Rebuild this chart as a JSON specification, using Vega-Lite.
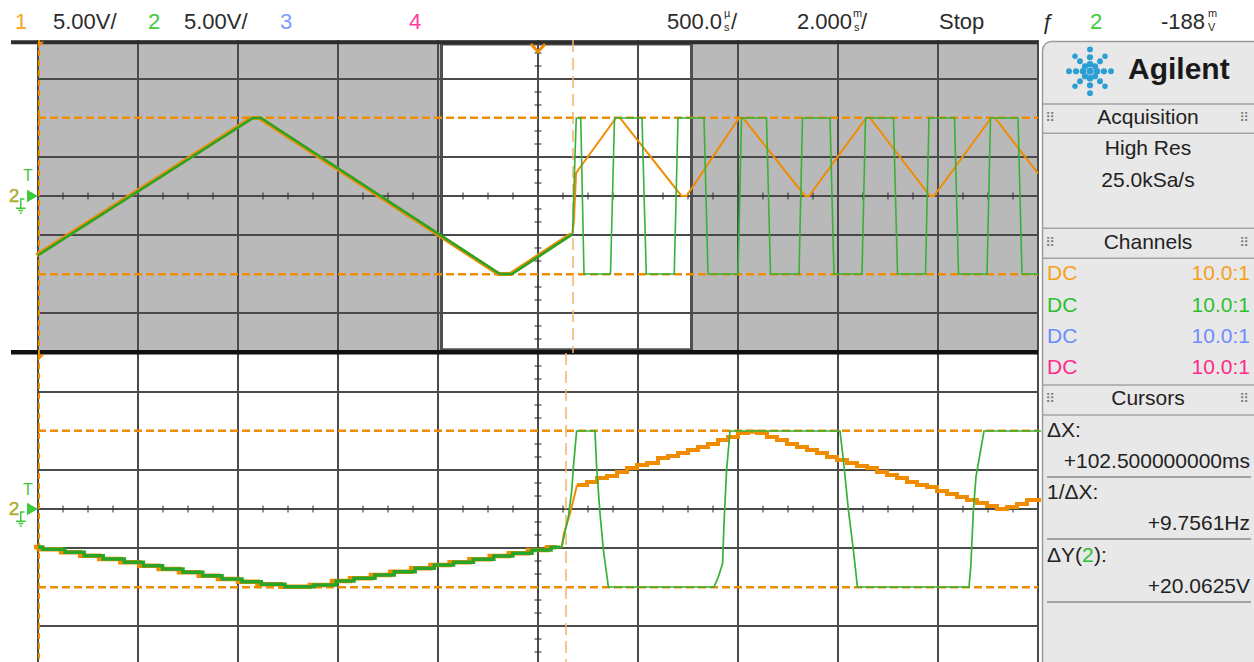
{
"$schema":"https://vega.github.io/schema/vega-lite/v6.json",
"padding":0,
"background":"white",
"spacing":0,
"bounds":"flush",
"config":{"view":{"stroke":null},"axis":{"disable":true},"legend":{"disable":true},"text":{"font":"Liberation Sans"}},
"resolve":{"scale":{"x":"independent","y":"independent","color":"independent","size":"independent"}},
"datasets":{
"header":[
{"text":"1","pos":15,"ch":"1","part":"main"},
{"text":"5.00V/","pos":53,"ch":"n","part":"main"},
{"text":"2","pos":148,"ch":"2","part":"main"},
{"text":"5.00V/","pos":184,"ch":"n","part":"main"},
{"text":"3","pos":280,"ch":"3","part":"main"},
{"text":"4","pos":409,"ch":"4","part":"main"},
{"text":"500.0","pos":667,"ch":"n","part":"main"},
{"text":"µ","pos":724,"ch":"n","part":"sup"},
{"text":"s","pos":724,"ch":"n","part":"sub"},
{"text":"/","pos":731,"ch":"n","part":"main"},
{"text":"2.000","pos":797,"ch":"n","part":"main"},
{"text":"m","pos":853,"ch":"n","part":"sup"},
{"text":"s","pos":854,"ch":"n","part":"sub"},
{"text":"/","pos":861,"ch":"n","part":"main"},
{"text":"Stop","pos":939,"ch":"n","part":"main"},
{"text":"ƒ","pos":1042,"ch":"n","part":"main"},
{"text":"2","pos":1090,"ch":"2","part":"main"},
{"text":"-188","pos":1161,"ch":"n","part":"main"},
{"text":"m","pos":1208,"ch":"n","part":"sup"},
{"text":"V","pos":1208,"ch":"n","part":"sub"}
],
"uGridT":[{"t":-10},{"t":-8},{"t":-6},{"t":-4},{"t":-2},{"t":0},{"t":2},{"t":4},{"t":6},{"t":8},{"t":10}],
"lGridT":[{"t":-1.93},{"t":-1.43},{"t":-0.93},{"t":-0.43},{"t":0.07},{"t":0.57},{"t":1.07},{"t":1.57},{"t":2.07},{"t":2.57},{"t":3.07}],
"gridV":[{"v":-15},{"v":-5},{"v":0},{"v":5},{"v":15}],
"uTicksT":[{"t":-9.5},{"t":-9},{"t":-8.5},{"t":-7.5},{"t":-7},{"t":-6.5},{"t":-5.5},{"t":-5},{"t":-4.5},{"t":-3.5},{"t":-3},{"t":-2.5},{"t":-1.5},{"t":-1},{"t":-0.5},{"t":0.5},{"t":1},{"t":1.5},{"t":2.5},{"t":3},{"t":3.5},{"t":4.5},{"t":5},{"t":5.5},{"t":6.5},{"t":7},{"t":7.5},{"t":8.5},{"t":9},{"t":9.5}],
"lTicksT":[{"t":-1.805},{"t":-1.68},{"t":-1.555},{"t":-1.305},{"t":-1.18},{"t":-1.055},{"t":-0.805},{"t":-0.68},{"t":-0.555},{"t":-0.305},{"t":-0.18},{"t":-0.055},{"t":0.195},{"t":0.32},{"t":0.445},{"t":0.695},{"t":0.82},{"t":0.945},{"t":1.195},{"t":1.32},{"t":1.445},{"t":1.695},{"t":1.82},{"t":1.945},{"t":2.195},{"t":2.32},{"t":2.445},{"t":2.695},{"t":2.82},{"t":2.945}],
"ticksV":[{"v":-18.333},{"v":-16.667},{"v":-13.333},{"v":-11.667},{"v":-8.333},{"v":-6.667},{"v":-3.333},{"v":-1.667},{"v":1.667},{"v":3.333},{"v":6.667},{"v":8.333},{"v":11.667},{"v":13.333},{"v":16.667},{"v":18.333}],
"cursorsY":[{"v":10.03},{"v":-10.03}],
"main":[
{"ch":1,"t":-10,"v":-7.6},{"ch":1,"t":-5.7,"v":10},{"ch":1,"t":-5.54,"v":10},{"ch":1,"t":-0.76,"v":-10},{"ch":1,"t":-0.52,"v":-10},{"ch":1,"t":0.69,"v":-4.9},{"ch":1,"t":0.72,"v":-3.1},{"ch":1,"t":0.76,"v":2.9},{"ch":1,"t":0.8,"v":3.3},{"ch":1,"t":1.56,"v":10},{"ch":1,"t":1.64,"v":10},{"ch":1,"t":2.87,"v":0},{"ch":1,"t":2.97,"v":0},{"ch":1,"t":4.02,"v":10},{"ch":1,"t":4.1,"v":10},{"ch":1,"t":5.34,"v":0},{"ch":1,"t":5.42,"v":0},{"ch":1,"t":6.56,"v":10},{"ch":1,"t":6.64,"v":10},{"ch":1,"t":7.84,"v":0},{"ch":1,"t":7.92,"v":0},{"ch":1,"t":9.06,"v":10},{"ch":1,"t":9.14,"v":10},{"ch":1,"t":10,"v":2.9},
{"ch":2,"t":-10,"v":-7.6},{"ch":2,"t":-5.7,"v":10},{"ch":2,"t":-5.54,"v":10},{"ch":2,"t":-0.76,"v":-10},{"ch":2,"t":-0.52,"v":-10},{"ch":2,"t":0.69,"v":-4.9},{"ch":2,"t":0.765,"v":10},{"ch":2,"t":0.855,"v":10},{"ch":2,"t":0.92,"v":-10},{"ch":2,"t":1.45,"v":-10},{"ch":2,"t":1.53,"v":10},{"ch":2,"t":2.08,"v":10},{"ch":2,"t":2.165,"v":-10},{"ch":2,"t":2.725,"v":-10},{"ch":2,"t":2.8,"v":10},{"ch":2,"t":3.32,"v":10},{"ch":2,"t":3.4,"v":-10},{"ch":2,"t":4.0,"v":-10},{"ch":2,"t":4.07,"v":10},{"ch":2,"t":4.57,"v":10},{"ch":2,"t":4.65,"v":-10},{"ch":2,"t":5.22,"v":-10},{"ch":2,"t":5.29,"v":10},{"ch":2,"t":5.84,"v":10},{"ch":2,"t":5.92,"v":-10},{"ch":2,"t":6.48,"v":-10},{"ch":2,"t":6.55,"v":10},{"ch":2,"t":7.11,"v":10},{"ch":2,"t":7.19,"v":-10},{"ch":2,"t":7.75,"v":-10},{"ch":2,"t":7.82,"v":10},{"ch":2,"t":8.33,"v":10},{"ch":2,"t":8.41,"v":-10},{"ch":2,"t":8.98,"v":-10},{"ch":2,"t":9.05,"v":10},{"ch":2,"t":9.6,"v":10},{"ch":2,"t":9.68,"v":-10},{"ch":2,"t":10,"v":-10}
],
"zoom":[
{"ch":1,"t":-1.93,"v":-4.87},{"ch":1,"t":-1.906,"v":-5.17},{"ch":1,"t":-1.795,"v":-5.55},{"ch":1,"t":-1.699,"v":-5.99},{"ch":1,"t":-1.604,"v":-6.41},{"ch":1,"t":-1.498,"v":-6.83},{"ch":1,"t":-1.403,"v":-7.27},{"ch":1,"t":-1.307,"v":-7.69},{"ch":1,"t":-1.205,"v":-8.12},{"ch":1,"t":-1.106,"v":-8.55},{"ch":1,"t":-1.01,"v":-8.97},{"ch":1,"t":-0.91,"v":-9.32},{"ch":1,"t":-0.813,"v":-9.65},{"ch":1,"t":-0.695,"v":-9.96},{"ch":1,"t":-0.551,"v":-9.74},{"ch":1,"t":-0.44,"v":-9.23},{"ch":1,"t":-0.35,"v":-8.88},{"ch":1,"t":-0.245,"v":-8.46},{"ch":1,"t":-0.149,"v":-8.04},{"ch":1,"t":-0.044,"v":-7.6},{"ch":1,"t":0.052,"v":-7.18},{"ch":1,"t":0.148,"v":-6.83},{"ch":1,"t":0.247,"v":-6.45},{"ch":1,"t":0.349,"v":-6.03},{"ch":1,"t":0.444,"v":-5.68},{"ch":1,"t":0.54,"v":-5.26},{"ch":1,"t":0.635,"v":-4.91},{"ch":1,"t":0.683,"v":-4.91},
{"ch":1,"t":0.689,"v":-4.83},{"ch":1,"t":0.7,"v":-3.12},{"ch":1,"t":0.713,"v":-2.05},{"ch":1,"t":0.73,"v":-0.55},{"ch":1,"t":0.747,"v":1.15},{"ch":1,"t":0.763,"v":2.86},
{"ch":1,"t":0.765,"v":3.08},{"ch":1,"t":0.815,"v":3.46},{"ch":1,"t":0.865,"v":3.97},{"ch":1,"t":0.915,"v":4.23},{"ch":1,"t":0.965,"v":4.74},{"ch":1,"t":1.015,"v":5.26},{"ch":1,"t":1.065,"v":5.64},{"ch":1,"t":1.115,"v":5.9},{"ch":1,"t":1.17,"v":6.54},{"ch":1,"t":1.22,"v":6.79},{"ch":1,"t":1.27,"v":7.18},{"ch":1,"t":1.32,"v":7.56},{"ch":1,"t":1.37,"v":7.95},{"ch":1,"t":1.42,"v":8.33},{"ch":1,"t":1.47,"v":8.85},{"ch":1,"t":1.52,"v":9.23},{"ch":1,"t":1.57,"v":9.74},{"ch":1,"t":1.62,"v":9.9},{"ch":1,"t":1.665,"v":9.74},{"ch":1,"t":1.715,"v":9.23},{"ch":1,"t":1.765,"v":8.85},{"ch":1,"t":1.815,"v":8.33},{"ch":1,"t":1.865,"v":7.95},{"ch":1,"t":1.915,"v":7.56},{"ch":1,"t":1.965,"v":7.18},{"ch":1,"t":2.015,"v":6.67},{"ch":1,"t":2.065,"v":6.28},{"ch":1,"t":2.115,"v":5.9},{"ch":1,"t":2.165,"v":5.51},{"ch":1,"t":2.215,"v":5.26},{"ch":1,"t":2.265,"v":4.74},{"ch":1,"t":2.315,"v":4.36},{"ch":1,"t":2.365,"v":3.97},{"ch":1,"t":2.415,"v":3.46},{"ch":1,"t":2.465,"v":3.08},{"ch":1,"t":2.515,"v":2.82},{"ch":1,"t":2.565,"v":2.31},{"ch":1,"t":2.615,"v":1.92},{"ch":1,"t":2.665,"v":1.54},{"ch":1,"t":2.715,"v":1.15},{"ch":1,"t":2.765,"v":0.77},{"ch":1,"t":2.815,"v":0.38},{"ch":1,"t":2.865,"v":0},{"ch":1,"t":2.915,"v":0.26},{"ch":1,"t":2.965,"v":0.64},{"ch":1,"t":3.015,"v":1.15},{"ch":1,"t":3.085,"v":1.15},
{"ch":2,"t":-1.93,"v":-4.87},{"ch":2,"t":-1.906,"v":-5.17},{"ch":2,"t":-1.795,"v":-5.55},{"ch":2,"t":-1.699,"v":-5.99},{"ch":2,"t":-1.604,"v":-6.41},{"ch":2,"t":-1.498,"v":-6.83},{"ch":2,"t":-1.403,"v":-7.27},{"ch":2,"t":-1.307,"v":-7.69},{"ch":2,"t":-1.205,"v":-8.12},{"ch":2,"t":-1.106,"v":-8.55},{"ch":2,"t":-1.01,"v":-8.97},{"ch":2,"t":-0.91,"v":-9.32},{"ch":2,"t":-0.813,"v":-9.65},{"ch":2,"t":-0.695,"v":-9.96},{"ch":2,"t":-0.551,"v":-9.74},{"ch":2,"t":-0.44,"v":-9.23},{"ch":2,"t":-0.35,"v":-8.88},{"ch":2,"t":-0.245,"v":-8.46},{"ch":2,"t":-0.149,"v":-8.04},{"ch":2,"t":-0.044,"v":-7.6},{"ch":2,"t":0.052,"v":-7.18},{"ch":2,"t":0.148,"v":-6.83},{"ch":2,"t":0.247,"v":-6.45},{"ch":2,"t":0.349,"v":-6.03},{"ch":2,"t":0.444,"v":-5.68},{"ch":2,"t":0.54,"v":-5.26},{"ch":2,"t":0.635,"v":-4.91},{"ch":2,"t":0.683,"v":-4.91},
{"ch":2,"t":0.689,"v":-4.83},{"ch":2,"t":0.705,"v":-2.9},{"ch":2,"t":0.722,"v":-1.0},{"ch":2,"t":0.739,"v":2.44},{"ch":2,"t":0.747,"v":5.4},{"ch":2,"t":0.763,"v":10},{"ch":2,"t":0.855,"v":10},{"ch":2,"t":0.863,"v":5.4},{"ch":2,"t":0.88,"v":-0.55},{"ch":2,"t":0.897,"v":-5.26},{"ch":2,"t":0.922,"v":-10},{"ch":2,"t":1.45,"v":-10},{"ch":2,"t":1.472,"v":-8.68},{"ch":2,"t":1.493,"v":-6.96},{"ch":2,"t":1.5,"v":-1.83},{"ch":2,"t":1.513,"v":5.0},{"ch":2,"t":1.53,"v":10},{"ch":2,"t":2.08,"v":10},{"ch":2,"t":2.097,"v":6.28},{"ch":2,"t":2.122,"v":-0.13},{"ch":2,"t":2.147,"v":-5.26},{"ch":2,"t":2.167,"v":-10},{"ch":2,"t":2.725,"v":-10},{"ch":2,"t":2.734,"v":-7.4},{"ch":2,"t":2.747,"v":-0.13},{"ch":2,"t":2.76,"v":4.14},{"ch":2,"t":2.8,"v":10},{"ch":2,"t":3.085,"v":10}
],
"panelText":[
{"text":"Agilent","row":0.95,"kind":"brand","ch":"n"},
{"text":"Acquisition","row":2.5,"kind":"section","ch":"n"},
{"text":"High Res","row":3.5,"kind":"info","ch":"n"},
{"text":"25.0kSa/s","row":4.5,"kind":"info","ch":"n"},
{"text":"Channels","row":6.5,"kind":"section","ch":"n"},
{"text":"DC","row":7.5,"kind":"label","ch":"1"},
{"text":"DC","row":8.5,"kind":"label","ch":"2"},
{"text":"DC","row":9.5,"kind":"label","ch":"3"},
{"text":"DC","row":10.5,"kind":"label","ch":"4"},
{"text":"10.0:1","row":7.5,"kind":"value","ch":"1"},
{"text":"10.0:1","row":8.5,"kind":"value","ch":"2"},
{"text":"10.0:1","row":9.5,"kind":"value","ch":"3"},
{"text":"10.0:1","row":10.5,"kind":"value","ch":"4"},
{"text":"Cursors","row":11.5,"kind":"section","ch":"n"},
{"text":"ΔX:","row":12.5,"kind":"label","ch":"n"},
{"text":"+102.500000000ms","row":13.5,"kind":"value","ch":"n"},
{"text":"1/ΔX:","row":14.5,"kind":"label","ch":"n"},
{"text":"+9.7561Hz","row":15.5,"kind":"value","ch":"n"},
{"text":"ΔY(","row":16.5,"kind":"label","ch":"n"},
{"text":"2","row":16.5,"kind":"lab2","ch":"2"},
{"text":"):","row":16.5,"kind":"lab3","ch":"n"},
{"text":"+20.0625V","row":17.5,"kind":"value","ch":"n"}
],
"panelLines":[
{"row":2.05,"kind":"band"},{"row":2.98,"kind":"band"},{"row":6.02,"kind":"band"},{"row":6.98,"kind":"band"},{"row":11.04,"kind":"band"},{"row":12.0,"kind":"band"},
{"row":13.98,"kind":"under"},{"row":15.97,"kind":"under"},{"row":17.98,"kind":"under"}
],
"logo":[
{"col":49,"row":1.0,"ring":0},
{"col":42,"row":1.0,"ring":1},{"col":56,"row":1.0,"ring":1},{"col":49,"row":0.776,"ring":1},{"col":49,"row":1.224,"ring":1},
{"col":44,"row":0.84,"ring":2},{"col":54,"row":0.84,"ring":2},{"col":44,"row":1.16,"ring":2},{"col":54,"row":1.16,"ring":2},
{"col":35,"row":1.0,"ring":2},{"col":63,"row":1.0,"ring":2},{"col":49,"row":0.552,"ring":2},{"col":49,"row":1.448,"ring":2},
{"col":39,"row":0.68,"ring":3},{"col":59,"row":0.68,"ring":3},{"col":39,"row":1.32,"ring":3},{"col":59,"row":1.32,"ring":3},
{"col":28,"row":1.0,"ring":3},{"col":70,"row":1.0,"ring":3},{"col":49,"row":0.3,"ring":3},{"col":49,"row":1.7,"ring":3},
{"col":34,"row":0.52,"ring":4},{"col":64,"row":0.52,"ring":4},{"col":34,"row":1.48,"ring":4},{"col":64,"row":1.48,"ring":4}
]
},
"vconcat":[
{
"width":1254,"height":40,
"data":{"name":"header"},
"layer":[
{"transform":[{"filter":"datum.part == 'main'"}],
"mark":{"type":"text","align":"left","baseline":"middle","fontSize":22,"font":"Liberation Sans","clip":true},
"encoding":{"x":{"field":"pos","type":"quantitative","scale":{"domain":[0,1254],"nice":false,"zero":false}},"y":{"datum":0.45,"type":"quantitative","scale":{"domain":[0,1],"nice":false}},"text":{"field":"text","type":"nominal"},"color":{"field":"ch","type":"nominal","scale":{"domain":["1","2","3","4","n"],"range":["#f5a623","#3ec93e","#7b9bff","#ff3d9e","#2b2b2b"]}}}},
{"transform":[{"filter":"datum.part == 'sup'"}],
"mark":{"type":"text","align":"left","baseline":"middle","fontSize":11,"font":"Liberation Sans","clip":true},
"encoding":{"x":{"field":"pos","type":"quantitative","scale":{"domain":[0,1254],"nice":false,"zero":false}},"y":{"datum":0.64,"type":"quantitative","scale":{"domain":[0,1],"nice":false}},"text":{"field":"text","type":"nominal"},"color":{"field":"ch","type":"nominal","scale":{"domain":["1","2","3","4","n"],"range":["#f5a623","#3ec93e","#7b9bff","#ff3d9e","#2b2b2b"]}}}},
{"transform":[{"filter":"datum.part == 'sub'"}],
"mark":{"type":"text","align":"left","baseline":"middle","fontSize":11,"font":"Liberation Sans","clip":true},
"encoding":{"x":{"field":"pos","type":"quantitative","scale":{"domain":[0,1254],"nice":false,"zero":false}},"y":{"datum":0.3,"type":"quantitative","scale":{"domain":[0,1],"nice":false}},"text":{"field":"text","type":"nominal"},"color":{"field":"ch","type":"nominal","scale":{"domain":["1","2","3","4","n"],"range":["#f5a623","#3ec93e","#7b9bff","#ff3d9e","#2b2b2b"]}}}}
]
},
{
"hconcat":[
{
"spacing":0,
"bounds":"flush",
"resolve":{"scale":{"x":"independent","y":"independent"}},
"vconcat":[
{
"width":1041,"height":313,
"layer":[
{"data":{"values":[{}]},"mark":{"type":"rect","color":"#b9b9b9"},
"encoding":{"x":{"datum":-10,"type":"quantitative","scale":{"domain":[-10.76,10.06],"nice":false,"zero":false}},"x2":{"datum":10},"y":{"datum":-20,"type":"quantitative","scale":{"domain":[-20.13,20],"nice":false,"zero":false}},"y2":{"datum":20}}},
{"data":{"values":[{}]},"mark":{"type":"rect","fill":"white","stroke":"#505050","strokeWidth":3},
"encoding":{"x":{"datum":-1.93,"type":"quantitative","scale":{"domain":[-10.76,10.06],"nice":false,"zero":false}},"x2":{"datum":3.07},"y":{"datum":-19.7,"type":"quantitative","scale":{"domain":[-20.13,20],"nice":false,"zero":false}},"y2":{"datum":19.5}}},
{"data":{"name":"uGridT"},"mark":{"type":"rule","color":"#4a4a4a","strokeWidth":2},
"encoding":{"x":{"field":"t","type":"quantitative","scale":{"domain":[-10.76,10.06],"nice":false,"zero":false}}}},
{"data":{"name":"gridV"},"mark":{"type":"rule","color":"#4a4a4a","strokeWidth":2},
"encoding":{"y":{"field":"v","type":"quantitative","scale":{"domain":[-20.13,20],"nice":false,"zero":false}},"x":{"datum":-10,"type":"quantitative","scale":{"domain":[-10.76,10.06],"nice":false,"zero":false}},"x2":{"datum":10}}},
{"data":{"values":[{}]},"mark":{"type":"rule","color":"#2e2e2e","strokeWidth":4,"clip":true},
"encoding":{"y":{"datum":19.7,"type":"quantitative","scale":{"domain":[-20.13,20],"nice":false,"zero":false}},"x":{"datum":-10.54,"type":"quantitative","scale":{"domain":[-10.76,10.06],"nice":false,"zero":false}},"x2":{"datum":10}}},
{"data":{"values":[{}]},"mark":{"type":"rule","color":"#111111","strokeWidth":4,"clip":true},
"encoding":{"y":{"datum":-20,"type":"quantitative","scale":{"domain":[-20.13,20],"nice":false,"zero":false}},"x":{"datum":-10.54,"type":"quantitative","scale":{"domain":[-10.76,10.06],"nice":false,"zero":false}},"x2":{"datum":10}}},
{"data":{"name":"uTicksT"},"mark":{"type":"tick","orient":"vertical","color":"#333333","size":7,"thickness":1.5},
"encoding":{"x":{"field":"t","type":"quantitative","scale":{"domain":[-10.76,10.06],"nice":false,"zero":false}},"y":{"datum":0,"type":"quantitative","scale":{"domain":[-20.13,20],"nice":false,"zero":false}}}},
{"data":{"name":"ticksV"},"mark":{"type":"tick","orient":"horizontal","color":"#333333","size":7,"thickness":1.5},
"encoding":{"y":{"field":"v","type":"quantitative","scale":{"domain":[-20.13,20],"nice":false,"zero":false}},"x":{"datum":0,"type":"quantitative","scale":{"domain":[-10.76,10.06],"nice":false,"zero":false}}}},
{"data":{"name":"cursorsY"},"mark":{"type":"rule","color":"#f08c00","strokeWidth":2.5,"strokeDash":[8,4]},
"encoding":{"y":{"field":"v","type":"quantitative","scale":{"domain":[-20.13,20],"nice":false,"zero":false}},"x":{"datum":-10,"type":"quantitative","scale":{"domain":[-10.76,10.06],"nice":false,"zero":false}},"x2":{"datum":10}}},
{"data":{"values":[{}]},"mark":{"type":"rule","color":"#f08c00","strokeWidth":2,"strokeDash":[6,4]},
"encoding":{"x":{"datum":-9.98,"type":"quantitative","scale":{"domain":[-10.76,10.06],"nice":false,"zero":false}}}},
{"data":{"values":[{}]},"mark":{"type":"rule","color":"#f6b36c","strokeWidth":1.5,"strokeDash":[12,6]},
"encoding":{"x":{"datum":0.7,"type":"quantitative","scale":{"domain":[-10.76,10.06],"nice":false,"zero":false}}}},
{"data":{"name":"main"},"transform":[{"filter":"datum.ch == 1 && datum.t <= 0.69"}],"mark":{"type":"line","color":"#f08c00","strokeWidth":4,"xOffset":-1.5,"clip":true},
"encoding":{"x":{"field":"t","type":"quantitative","scale":{"domain":[-10.76,10.06],"nice":false,"zero":false}},"y":{"field":"v","type":"quantitative","scale":{"domain":[-20.13,20],"nice":false,"zero":false}}}},
{"data":{"name":"main"},"transform":[{"filter":"datum.ch == 2 && datum.t <= 0.69"}],"mark":{"type":"line","color":"#28a428","strokeWidth":2.6,"clip":true},
"encoding":{"x":{"field":"t","type":"quantitative","scale":{"domain":[-10.76,10.06],"nice":false,"zero":false}},"y":{"field":"v","type":"quantitative","scale":{"domain":[-20.13,20],"nice":false,"zero":false}}}},
{"data":{"name":"main"},"transform":[{"filter":"datum.ch == 1 && datum.t >= 0.69"}],"mark":{"type":"line","color":"#f08c00","strokeWidth":2,"clip":true},
"encoding":{"x":{"field":"t","type":"quantitative","scale":{"domain":[-10.76,10.06],"nice":false,"zero":false}},"y":{"field":"v","type":"quantitative","scale":{"domain":[-20.13,20],"nice":false,"zero":false}}}},
{"data":{"name":"main"},"transform":[{"filter":"datum.ch == 2 && datum.t >= 0.69"}],"mark":{"type":"line","color":"#36b236","strokeWidth":1.6,"clip":true},
"encoding":{"x":{"field":"t","type":"quantitative","scale":{"domain":[-10.76,10.06],"nice":false,"zero":false}},"y":{"field":"v","type":"quantitative","scale":{"domain":[-20.13,20],"nice":false,"zero":false}}}},
{"data":{"values":[{}]},"mark":{"type":"point","shape":"M-1,-1L1,-1L-1,1Z","filled":true,"color":"#f08c00","size":40,"opacity":1,"clip":true},
"encoding":{"x":{"datum":-9.94,"type":"quantitative","scale":{"domain":[-10.76,10.06],"nice":false,"zero":false}},"y":{"datum":19.36,"type":"quantitative","scale":{"domain":[-20.13,20],"nice":false,"zero":false}}}},
{"data":{"values":[{}]},"mark":{"type":"point","shape":"M-1,-0.55L0,0.55L1,-0.55","filled":false,"stroke":"#f08c00","strokeWidth":3,"size":200,"opacity":1,"clip":true},
"encoding":{"x":{"datum":0,"type":"quantitative","scale":{"domain":[-10.76,10.06],"nice":false,"zero":false}},"y":{"datum":19.0,"type":"quantitative","scale":{"domain":[-20.13,20],"nice":false,"zero":false}}}},
{"data":{"values":[{}]},"mark":{"type":"text","text":"T","color":"#3ec93e","fontSize":16,"baseline":"middle","align":"center"},
"encoding":{"x":{"datum":-10.2,"type":"quantitative","scale":{"domain":[-10.76,10.06],"nice":false,"zero":false}},"y":{"datum":2.5,"type":"quantitative","scale":{"domain":[-20.13,20],"nice":false,"zero":false}}}},
{"data":{"values":[{}]},"mark":{"type":"text","text":"2","color":"#5cc53a","fontSize":19,"baseline":"middle","align":"center","stroke":"#f0a030","strokeWidth":0.5},
"encoding":{"x":{"datum":-10.48,"type":"quantitative","scale":{"domain":[-10.76,10.06],"nice":false,"zero":false}},"y":{"datum":0,"type":"quantitative","scale":{"domain":[-20.13,20],"nice":false,"zero":false}}}},
{"data":{"values":[{}]},"mark":{"type":"point","shape":"triangle-right","filled":true,"color":"#3ec93e","size":160,"opacity":1},
"encoding":{"x":{"datum":-10.11,"type":"quantitative","scale":{"domain":[-10.76,10.06],"nice":false,"zero":false}},"y":{"datum":0,"type":"quantitative","scale":{"domain":[-20.13,20],"nice":false,"zero":false}}}},
{"data":{"values":[{}]},"mark":{"type":"point","shape":"M0.4,-1.3L-0.2,-1.3L-0.2,0.2M-1,0.2L0.6,0.2M-0.6,0.6L0.2,0.6M-0.35,1L-0.05,1","filled":false,"stroke":"#3ec93e","strokeWidth":1.5,"size":150,"opacity":1},
"encoding":{"x":{"datum":-10.32,"type":"quantitative","scale":{"domain":[-10.76,10.06],"nice":false,"zero":false}},"y":{"datum":-1.4,"type":"quantitative","scale":{"domain":[-20.13,20],"nice":false,"zero":false}}}}
]
},
{
"width":1041,"height":309,
"layer":[
{"data":{"name":"lGridT"},"mark":{"type":"rule","color":"#4a4a4a","strokeWidth":2},
"encoding":{"x":{"field":"t","type":"quantitative","scale":{"domain":[-2.12,3.085],"nice":false,"zero":false}}}},
{"data":{"name":"gridV"},"mark":{"type":"rule","color":"#4a4a4a","strokeWidth":2},
"encoding":{"y":{"field":"v","type":"quantitative","scale":{"domain":[-19.615,20],"nice":false,"zero":false}},"x":{"datum":-1.93,"type":"quantitative","scale":{"domain":[-2.12,3.085],"nice":false,"zero":false}},"x2":{"datum":3.07}}},
{"data":{"values":[{}]},"mark":{"type":"rule","color":"#111111","strokeWidth":3,"clip":true},
"encoding":{"y":{"datum":20,"type":"quantitative","scale":{"domain":[-19.615,20],"nice":false,"zero":false}},"x":{"datum":-2.065,"type":"quantitative","scale":{"domain":[-2.12,3.085],"nice":false,"zero":false}},"x2":{"datum":3.07}}},
{"data":{"name":"lTicksT"},"mark":{"type":"tick","orient":"vertical","color":"#333333","size":7,"thickness":1.5},
"encoding":{"x":{"field":"t","type":"quantitative","scale":{"domain":[-2.12,3.085],"nice":false,"zero":false}},"y":{"datum":0,"type":"quantitative","scale":{"domain":[-19.615,20],"nice":false,"zero":false}}}},
{"data":{"name":"ticksV"},"mark":{"type":"tick","orient":"horizontal","color":"#333333","size":7,"thickness":1.5,"clip":true},
"encoding":{"y":{"field":"v","type":"quantitative","scale":{"domain":[-19.615,20],"nice":false,"zero":false}},"x":{"datum":0.57,"type":"quantitative","scale":{"domain":[-2.12,3.085],"nice":false,"zero":false}}}},
{"data":{"name":"cursorsY"},"mark":{"type":"rule","color":"#f08c00","strokeWidth":2.5,"strokeDash":[8,4]},
"encoding":{"y":{"field":"v","type":"quantitative","scale":{"domain":[-19.615,20],"nice":false,"zero":false}},"x":{"datum":-1.93,"type":"quantitative","scale":{"domain":[-2.12,3.085],"nice":false,"zero":false}},"x2":{"datum":3.07}}},
{"data":{"values":[{}]},"mark":{"type":"rule","color":"#f08c00","strokeWidth":2,"strokeDash":[6,4]},
"encoding":{"x":{"datum":-1.925,"type":"quantitative","scale":{"domain":[-2.12,3.085],"nice":false,"zero":false}}}},
{"data":{"values":[{}]},"mark":{"type":"rule","color":"#f6b36c","strokeWidth":1.5,"strokeDash":[12,6]},
"encoding":{"x":{"datum":0.71,"type":"quantitative","scale":{"domain":[-2.12,3.085],"nice":false,"zero":false}}}},
{"data":{"name":"zoom"},"transform":[{"filter":"datum.ch == 1 && datum.t <= 0.683"}],"mark":{"type":"line","interpolate":"step-after","color":"#f08c00","strokeWidth":4.5,"xOffset":-4,"clip":true},
"encoding":{"x":{"field":"t","type":"quantitative","scale":{"domain":[-2.12,3.085],"nice":false,"zero":false}},"y":{"field":"v","type":"quantitative","scale":{"domain":[-19.615,20],"nice":false,"zero":false}}}},
{"data":{"name":"zoom"},"transform":[{"filter":"datum.ch == 2 && datum.t <= 0.683"}],"mark":{"type":"line","interpolate":"step-after","color":"#28a428","strokeWidth":3.5,"clip":true},
"encoding":{"x":{"field":"t","type":"quantitative","scale":{"domain":[-2.12,3.085],"nice":false,"zero":false}},"y":{"field":"v","type":"quantitative","scale":{"domain":[-19.615,20],"nice":false,"zero":false}}}},
{"data":{"name":"zoom"},"transform":[{"filter":"datum.ch == 1 && datum.t >= 0.683 && datum.t <= 0.765"}],"mark":{"type":"line","color":"#f08c00","strokeWidth":2,"clip":true},
"encoding":{"x":{"field":"t","type":"quantitative","scale":{"domain":[-2.12,3.085],"nice":false,"zero":false}},"y":{"field":"v","type":"quantitative","scale":{"domain":[-19.615,20],"nice":false,"zero":false}}}},
{"data":{"name":"zoom"},"transform":[{"filter":"datum.ch == 1 && datum.t >= 0.765"}],"mark":{"type":"line","interpolate":"step-after","color":"#f08c00","strokeWidth":4,"clip":true},
"encoding":{"x":{"field":"t","type":"quantitative","scale":{"domain":[-2.12,3.085],"nice":false,"zero":false}},"y":{"field":"v","type":"quantitative","scale":{"domain":[-19.615,20],"nice":false,"zero":false}}}},
{"data":{"name":"zoom"},"transform":[{"filter":"datum.ch == 2 && datum.t >= 0.683"}],"mark":{"type":"line","color":"#36b236","strokeWidth":1.7,"clip":true},
"encoding":{"x":{"field":"t","type":"quantitative","scale":{"domain":[-2.12,3.085],"nice":false,"zero":false}},"y":{"field":"v","type":"quantitative","scale":{"domain":[-19.615,20],"nice":false,"zero":false}}}},
{"data":{"values":[{}]},"mark":{"type":"point","shape":"M-1,-1L1,-1L-1,1Z","filled":true,"color":"#f08c00","size":40,"opacity":1,"clip":true},
"encoding":{"x":{"datum":-1.915,"type":"quantitative","scale":{"domain":[-2.12,3.085],"nice":false,"zero":false}},"y":{"datum":19.36,"type":"quantitative","scale":{"domain":[-19.615,20],"nice":false,"zero":false}}}},
{"data":{"values":[{}]},"mark":{"type":"text","text":"T","color":"#3ec93e","fontSize":16,"baseline":"middle","align":"center"},
"encoding":{"x":{"datum":-1.98,"type":"quantitative","scale":{"domain":[-2.12,3.085],"nice":false,"zero":false}},"y":{"datum":2.5,"type":"quantitative","scale":{"domain":[-19.615,20],"nice":false,"zero":false}}}},
{"data":{"values":[{}]},"mark":{"type":"text","text":"2","color":"#5cc53a","fontSize":19,"baseline":"middle","align":"center","stroke":"#f0a030","strokeWidth":0.5},
"encoding":{"x":{"datum":-2.05,"type":"quantitative","scale":{"domain":[-2.12,3.085],"nice":false,"zero":false}},"y":{"datum":0,"type":"quantitative","scale":{"domain":[-19.615,20],"nice":false,"zero":false}}}},
{"data":{"values":[{}]},"mark":{"type":"point","shape":"triangle-right","filled":true,"color":"#3ec93e","size":160,"opacity":1},
"encoding":{"x":{"datum":-1.9575,"type":"quantitative","scale":{"domain":[-2.12,3.085],"nice":false,"zero":false}},"y":{"datum":0,"type":"quantitative","scale":{"domain":[-19.615,20],"nice":false,"zero":false}}}},
{"data":{"values":[{}]},"mark":{"type":"point","shape":"M0.4,-1.3L-0.2,-1.3L-0.2,0.2M-1,0.2L0.6,0.2M-0.6,0.6L0.2,0.6M-0.35,1L-0.05,1","filled":false,"stroke":"#3ec93e","strokeWidth":1.5,"size":150,"opacity":1},
"encoding":{"x":{"datum":-2.01,"type":"quantitative","scale":{"domain":[-2.12,3.085],"nice":false,"zero":false}},"y":{"datum":-1.4,"type":"quantitative","scale":{"domain":[-19.615,20],"nice":false,"zero":false}}}}
]
}
]
},
{
"width":213,"height":622,
"layer":[
{"data":{"values":[{}]},"mark":{"type":"rect","fill":"#e8e8e8","stroke":"#9a9a9a","strokeWidth":1.5,"cornerRadius":9,"clip":true},
"encoding":{"x":{"datum":1.5,"type":"quantitative","scale":{"domain":[0,213],"nice":false,"zero":false}},"x2":{"datum":260},"y":{"datum":0.05,"type":"quantitative","scale":{"domain":[0,19.904],"reverse":true,"nice":false,"zero":false}},"y2":{"datum":22}}},
{"data":{"name":"panelLines"},"transform":[{"filter":"datum.kind == 'band'"}],"mark":{"type":"rule","color":"#a3a3a3","strokeWidth":1.5},
"encoding":{"y":{"field":"row","type":"quantitative","scale":{"domain":[0,19.904],"reverse":true,"nice":false,"zero":false}},"x":{"datum":1.5,"type":"quantitative","scale":{"domain":[0,213],"nice":false,"zero":false}},"x2":{"datum":213}}},
{"data":{"name":"panelLines"},"transform":[{"filter":"datum.kind == 'under'"}],"mark":{"type":"rule","color":"#8c8c8c","strokeWidth":1.5},
"encoding":{"y":{"field":"row","type":"quantitative","scale":{"domain":[0,19.904],"reverse":true,"nice":false,"zero":false}},"x":{"datum":6,"type":"quantitative","scale":{"domain":[0,213],"nice":false,"zero":false}},"x2":{"datum":210}}},
{"data":{"name":"logo"},"mark":{"type":"circle","color":"#2b9fd4","opacity":1},
"encoding":{"x":{"field":"col","type":"quantitative","scale":{"domain":[0,213],"nice":false,"zero":false}},"y":{"field":"row","type":"quantitative","scale":{"domain":[0,19.904],"reverse":true,"nice":false,"zero":false}},"size":{"field":"ring","type":"ordinal","scale":{"domain":[0,1,2,3,4],"range":[48,30,18,10,6]}}}},
{"data":{"name":"panelText"},"transform":[{"filter":"datum.kind == 'brand'"}],"mark":{"type":"text","align":"left","baseline":"middle","fontSize":30,"fontWeight":"bold","font":"Liberation Sans","color":"#1a1a1a"},
"encoding":{"x":{"datum":87,"type":"quantitative","scale":{"domain":[0,213],"nice":false,"zero":false}},"y":{"field":"row","type":"quantitative","scale":{"domain":[0,19.904],"reverse":true,"nice":false,"zero":false}},"text":{"field":"text","type":"nominal"}}},
{"data":{"name":"panelText"},"transform":[{"filter":"datum.kind == 'section' || datum.kind == 'info'"}],"mark":{"type":"text","align":"center","baseline":"middle","fontSize":21,"font":"Liberation Sans","color":"#222222"},
"encoding":{"x":{"datum":107,"type":"quantitative","scale":{"domain":[0,213],"nice":false,"zero":false}},"y":{"field":"row","type":"quantitative","scale":{"domain":[0,19.904],"reverse":true,"nice":false,"zero":false}},"text":{"field":"text","type":"nominal"}}},
{"data":{"name":"panelText"},"transform":[{"filter":"datum.kind == 'section'"}],"mark":{"type":"text","text":"⠿","align":"center","baseline":"middle","fontSize":13,"font":"DejaVu Sans","color":"#7a7a7a"},
"encoding":{"x":{"datum":9,"type":"quantitative","scale":{"domain":[0,213],"nice":false,"zero":false}},"y":{"field":"row","type":"quantitative","scale":{"domain":[0,19.904],"reverse":true,"nice":false,"zero":false}}}},
{"data":{"name":"panelText"},"transform":[{"filter":"datum.kind == 'section'"}],"mark":{"type":"text","text":"⠿","align":"center","baseline":"middle","fontSize":13,"font":"DejaVu Sans","color":"#7a7a7a"},
"encoding":{"x":{"datum":203,"type":"quantitative","scale":{"domain":[0,213],"nice":false,"zero":false}},"y":{"field":"row","type":"quantitative","scale":{"domain":[0,19.904],"reverse":true,"nice":false,"zero":false}}}},
{"data":{"name":"panelText"},"transform":[{"filter":"datum.kind == 'label'"}],"mark":{"type":"text","align":"left","baseline":"middle","fontSize":21,"font":"Liberation Sans"},
"encoding":{"x":{"datum":6,"type":"quantitative","scale":{"domain":[0,213],"nice":false,"zero":false}},"y":{"field":"row","type":"quantitative","scale":{"domain":[0,19.904],"reverse":true,"nice":false,"zero":false}},"text":{"field":"text","type":"nominal"},"color":{"field":"ch","type":"nominal","scale":{"domain":["1","2","3","4","n"],"range":["#f7a01c","#2ec02e","#6d8cff","#ff2a8a","#222222"]}}}},
{"data":{"name":"panelText"},"transform":[{"filter":"datum.kind == 'lab2'"}],"mark":{"type":"text","align":"left","baseline":"middle","fontSize":21,"font":"Liberation Sans"},
"encoding":{"x":{"datum":41,"type":"quantitative","scale":{"domain":[0,213],"nice":false,"zero":false}},"y":{"field":"row","type":"quantitative","scale":{"domain":[0,19.904],"reverse":true,"nice":false,"zero":false}},"text":{"field":"text","type":"nominal"},"color":{"field":"ch","type":"nominal","scale":{"domain":["1","2","3","4","n"],"range":["#f7a01c","#2ec02e","#6d8cff","#ff2a8a","#222222"]}}}},
{"data":{"name":"panelText"},"transform":[{"filter":"datum.kind == 'lab3'"}],"mark":{"type":"text","align":"left","baseline":"middle","fontSize":21,"font":"Liberation Sans"},
"encoding":{"x":{"datum":53,"type":"quantitative","scale":{"domain":[0,213],"nice":false,"zero":false}},"y":{"field":"row","type":"quantitative","scale":{"domain":[0,19.904],"reverse":true,"nice":false,"zero":false}},"text":{"field":"text","type":"nominal"},"color":{"field":"ch","type":"nominal","scale":{"domain":["1","2","3","4","n"],"range":["#f7a01c","#2ec02e","#6d8cff","#ff2a8a","#222222"]}}}},
{"data":{"name":"panelText"},"transform":[{"filter":"datum.kind == 'value'"}],"mark":{"type":"text","align":"right","baseline":"middle","fontSize":21,"font":"Liberation Sans"},
"encoding":{"x":{"datum":209,"type":"quantitative","scale":{"domain":[0,213],"nice":false,"zero":false}},"y":{"field":"row","type":"quantitative","scale":{"domain":[0,19.904],"reverse":true,"nice":false,"zero":false}},"text":{"field":"text","type":"nominal"},"color":{"field":"ch","type":"nominal","scale":{"domain":["1","2","3","4","n"],"range":["#f7a01c","#2ec02e","#6d8cff","#ff2a8a","#222222"]}}}}
]
}
],
"spacing":0,
"resolve":{"scale":{"x":"independent","y":"independent","color":"independent","size":"independent"}}
}
]
}
